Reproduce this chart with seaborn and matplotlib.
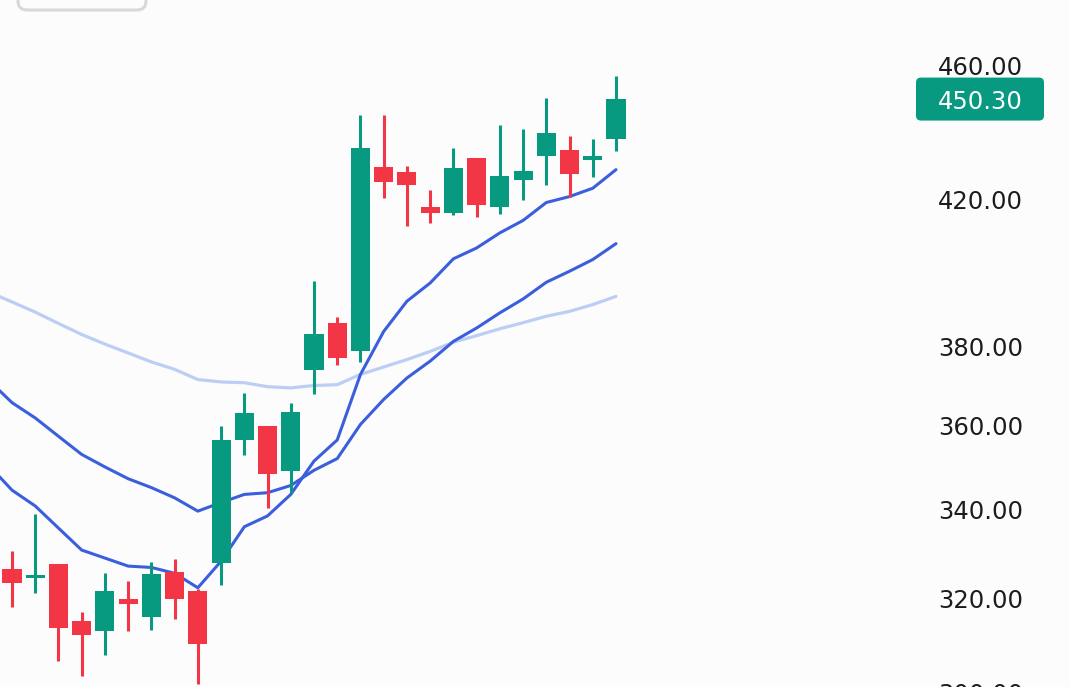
import matplotlib
matplotlib.use("Agg")
import matplotlib.pyplot as plt
import seaborn as sns
import pandas as pd
import numpy as np
from matplotlib.patches import FancyBboxPatch
from matplotlib.transforms import IdentityTransform, offset_copy

# candle data
opens = [326.7, 324.8, 327.8, 315.3, 313.3, 320.1, 316.3, 326.0, 321.8, 328.2,
         356.7, 360.3, 349.3, 374.2, 386.3, 379.0, 429.8, 428.4, 418.1, 416.4,
         432.5, 418.2, 426.1, 432.9, 434.8, 431.7, 438.2]
highs = [330.8, 339.2, 327.8, 317.4, 325.8, 324.0, 328.4, 329.1, 322.3, 360.3,
         368.3, 360.3, 365.8, 397.7, 388.1, 445.3, 445.3, 430.1, 423.2, 435.4,
         432.5, 442.3, 441.1, 450.5, 439.0, 438.1, 457.3]
lows = [318.3, 321.5, 306.8, 303.8, 308.2, 313.3, 313.5, 315.9, 302.2, 323.2,
        353.1, 340.6, 344.2, 368.1, 375.4, 376.2, 420.9, 412.7, 413.6, 416.0,
        415.5, 416.1, 420.1, 424.4, 421.2, 427.0, 434.6]
closes = [323.7, 325.5, 313.8, 312.4, 321.8, 319.1, 325.6, 320.2, 310.5, 356.9,
          363.4, 348.6, 363.6, 383.6, 377.2, 435.3, 425.4, 424.4, 416.5, 429.5,
          418.7, 427.2, 428.7, 439.9, 427.7, 433.0, 450.3]

# moving averages, starting one bar before the first visible candle
ma_fast = [350.7, 344.8, 341.1, 336.0, 331.0, 329.2, 327.4, 327.1, 325.8, 322.6,
           328.5, 336.3, 338.8, 343.8, 351.7, 356.8, 373.1, 384.2, 392.2, 397.1,
           403.7, 406.7, 410.9, 414.4, 419.5, 421.2, 423.6, 429.0]
ma_mid = [371.6, 366.0, 362.2, 357.7, 353.3, 350.3, 347.5, 345.4, 343.0, 339.9,
          341.9, 343.8, 344.2, 345.9, 349.5, 352.3, 360.6, 366.8, 372.2, 376.5,
          381.6, 385.1, 389.1, 392.8, 397.3, 400.3, 403.5, 407.9]
ma_slow = [394.7, 392.0, 389.3, 386.3, 383.4, 380.9, 378.6, 376.3, 374.4, 371.8,
           371.2, 371.0, 370.0, 369.7, 370.3, 370.5, 373.1, 375.0, 376.9, 379.0,
           381.4, 383.1, 384.9, 386.5, 388.2, 389.5, 391.3, 393.5]

tick_values = [460, 420, 380, 360, 340, 320, 300]
last_price = 450.30

GREEN = '#089981'
RED = '#F23645'
BLUE = '#3B5FDC'
LIGHT_BLUE = '#BCCEF4'
BG = '#FCFCFC'

candles = pd.DataFrame({'idx': np.arange(len(opens)), 'open': opens, 'high': highs,
                        'low': lows, 'close': closes})
candles['color'] = np.where(candles['close'] >= candles['open'], GREEN, RED)
mas = pd.DataFrame({'idx': np.arange(-1, len(ma_fast) - 1), 'fast': ma_fast,
                    'mid': ma_mid, 'slow': ma_slow})

sns.set_style("white")
plt.rcParams['font.family'] = ['DejaVu Sans']

fig = plt.figure(figsize=(10.69, 6.87), dpi=100)
fig.patch.set_facecolor(BG)
ax = fig.add_axes([0, 0, 1, 1])
ax.set_facecolor(BG)

# moving average lines
sns.lineplot(data=mas, x='idx', y='slow', ax=ax, color=LIGHT_BLUE, linewidth=2.3, zorder=1)
sns.lineplot(data=mas, x='idx', y='mid', ax=ax, color=BLUE, linewidth=2.2, zorder=1)
sns.lineplot(data=mas, x='idx', y='fast', ax=ax, color=BLUE, linewidth=2.2, zorder=1)

# candles: wicks then bodies
ax.vlines(candles['idx'], candles['low'], candles['high'], colors=candles['color'],
          linewidth=2.2, zorder=2)
body_bottom = candles[['open', 'close']].min(axis=1)
body_height = (candles['open'] - candles['close']).abs()
ax.bar(candles['idx'], body_height, bottom=body_bottom, width=0.82,
       color=candles['color'], linewidth=0, zorder=3)

ax.set_yscale('log')
ax.set_ylim(301.5, 481.6)
ax.set_xlim(-0.5166, 45.5)
ax.set_axis_off()

# price labels on the right (baseline placed so digits are centred on the value)
label_trans = offset_copy(ax.get_yaxis_transform(), fig=fig, y=-8, units='dots')
for v in tick_values:
    ax.text(938 / 1069, v, f'{v:.2f}', transform=label_trans,
            ha='left', va='baseline', fontsize=17.5, color='#1C1C1C', zorder=4)

# last price box
fig.canvas.draw()
y_last = ax.transData.transform((0, last_price))[1]
box = FancyBboxPatch((916, y_last - 22), 128, 43,
                     boxstyle='round,pad=0,rounding_size=5',
                     facecolor=GREEN, edgecolor='none', transform=IdentityTransform(),
                     zorder=5)
fig.add_artist(box)
fig.text(938 / 1069, (y_last - 10) / 687, f'{last_price:.2f}', ha='left', va='baseline',
         fontsize=17.5, color='white', zorder=6)

# partial control box at top left
ctrl = FancyBboxPatch((18, 687 - 10), 128, 40,
                      boxstyle='round,pad=0,rounding_size=9',
                      facecolor='none', edgecolor='#D8D8D8', linewidth=2.2,
                      transform=IdentityTransform(), zorder=5)
fig.add_artist(ctrl)

plt.savefig('out.png', dpi=100, facecolor=BG)
plt.close()
